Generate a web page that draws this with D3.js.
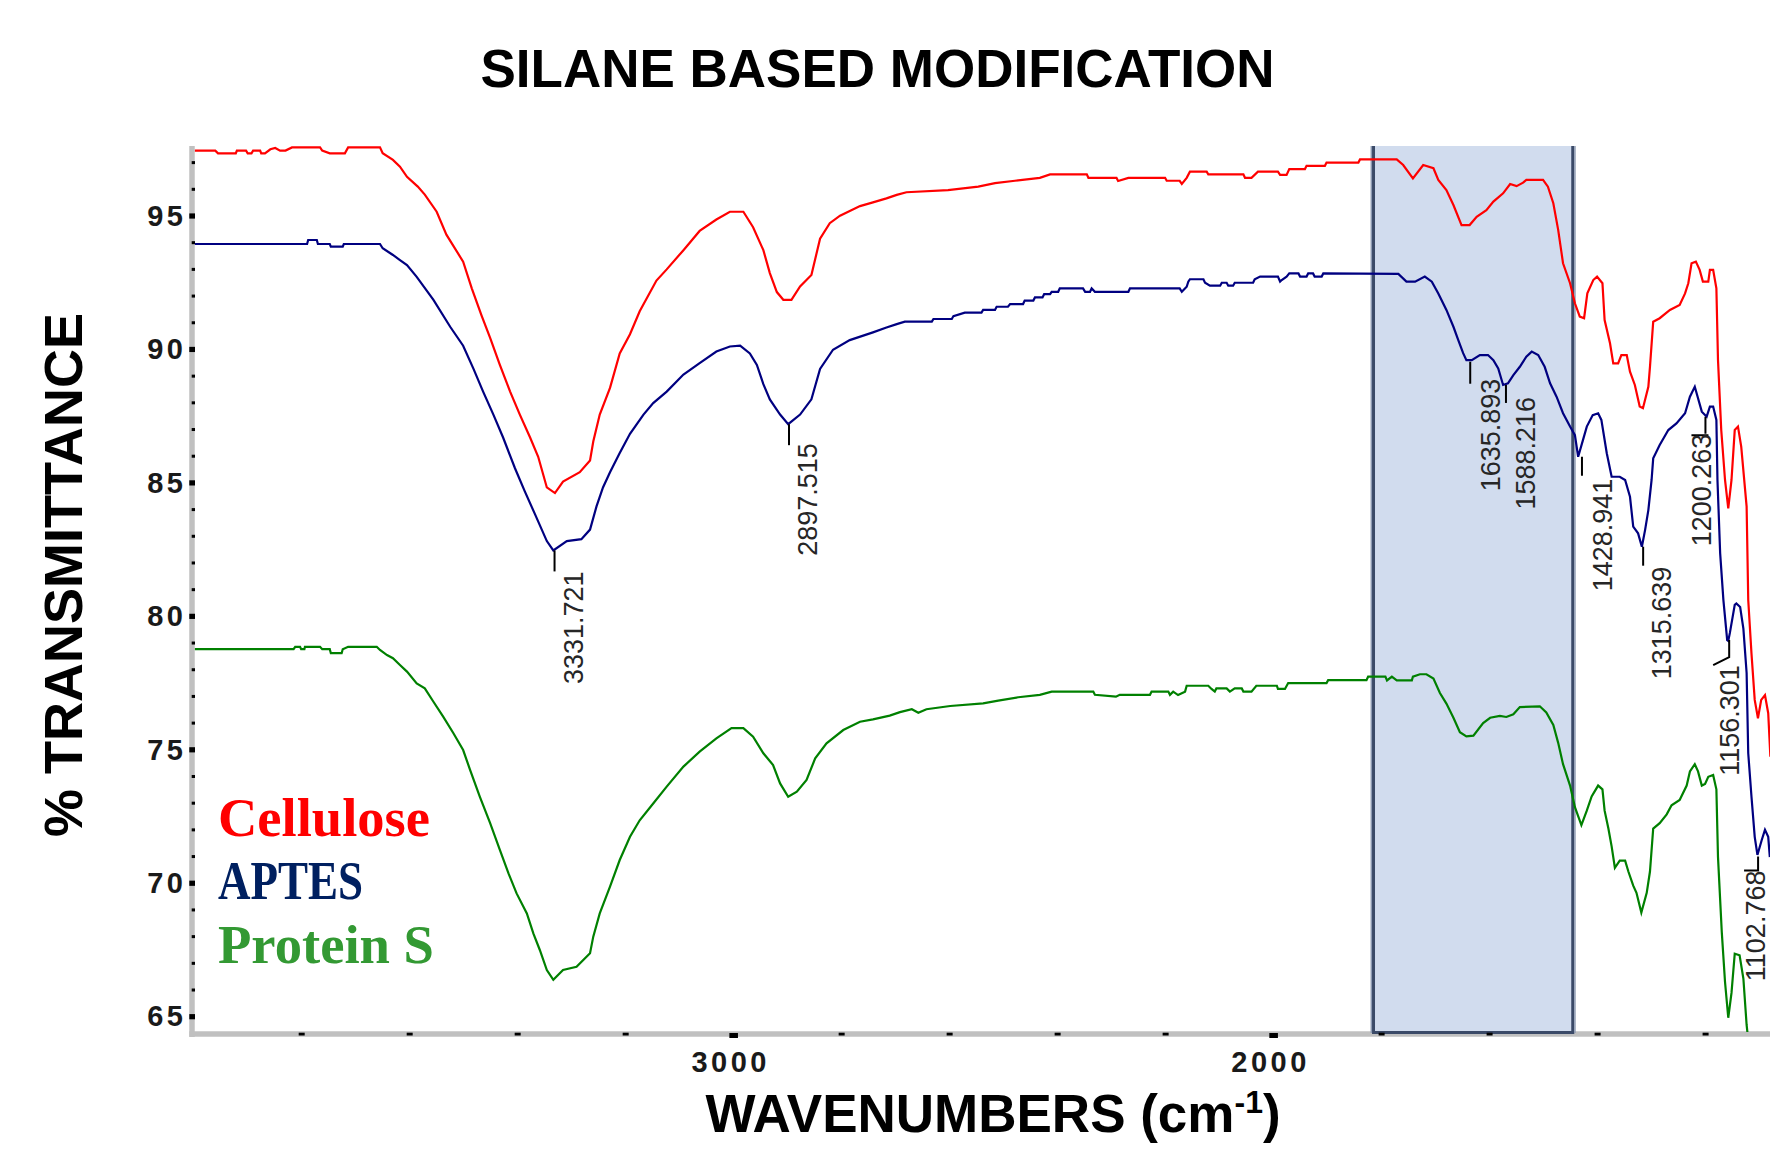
<!DOCTYPE html>
<html><head><meta charset="utf-8">
<script src="https://cdn.jsdelivr.net/npm/d3@7"></script>
<style>
html,body{margin:0;padding:0;background:#fff}
svg{display:block}
</style>
</head><body>
<svg id="chart" width="1770" height="1149"></svg>
<script>
// ---------------- DATA ----------------
const chartTitle = "SILANE BASED MODIFICATION";
const yTitle = "% TRANSMITTANCE";
const seriesNames = ["Cellulose", "APTES", "Protein S"];
const yTickValues = [65, 70, 75, 80, 85, 90, 95];
const xTickValues = [3000, 2000];
const highlightBand = [1815, 1446];

// [wavenumber cm-1, %T]
const cellulose = [[3998,97.45],[3960,97.45],[3955,97.35],[3922,97.35],[3920,97.45],[3903,97.45],[3900,97.35],[3893,97.35],[3890,97.45],[3877,97.45],[3875,97.35],[3868,97.35],[3858,97.5],[3849,97.55],[3840,97.45],[3830,97.45],[3818,97.57],[3766,97.57],[3762,97.45],[3748,97.35],[3720,97.35],[3714,97.57],[3655,97.57],[3650,97.35],[3631,97.1],[3618,96.85],[3605,96.47],[3585,96.1],[3572,95.8],[3550,95.16],[3532,94.3],[3501,93.29],[3485,92.29],[3467,91.28],[3451,90.43],[3433,89.42],[3414,88.42],[3396,87.56],[3377,86.7],[3362,85.98],[3346,84.83],[3331,84.62],[3316,85.05],[3285,85.4],[3266,85.84],[3260,86.55],[3248,87.56],[3229,88.56],[3211,89.85],[3192,90.57],[3174,91.43],[3143,92.58],[3124,93.0],[3093,93.72],[3063,94.44],[3032,94.87],[3007,95.16],[2982,95.16],[2964,94.58],[2945,93.72],[2933,92.86],[2920,92.15],[2908,91.86],[2893,91.86],[2877,92.36],[2856,92.79],[2840,94.15],[2822,94.73],[2803,95.01],[2766,95.37],[2742,95.51],[2717,95.66],[2698,95.79],[2680,95.89],[2603,95.97],[2547,96.1],[2516,96.23],[2479,96.32],[2433,96.43],[2414,96.56],[2346,96.56],[2343,96.43],[2291,96.43],[2288,96.31],[2269,96.43],[2201,96.43],[2198,96.32],[2174,96.32],[2170,96.2],[2161,96.43],[2155,96.66],[2124,96.66],[2121,96.56],[2056,96.56],[2053,96.43],[2041,96.43],[2029,96.66],[1992,96.66],[1988,96.54],[1976,96.54],[1971,96.76],[1942,96.76],[1939,96.88],[1905,96.88],[1902,97.0],[1843,97.0],[1840,97.12],[1772,97.12],[1760,96.91],[1742,96.41],[1723,96.91],[1704,96.79],[1695,96.35],[1680,95.97],[1667,95.41],[1652,94.66],[1637,94.66],[1624,94.97],[1606,95.22],[1593,95.54],[1575,95.85],[1562,96.2],[1550,96.12],[1538,96.25],[1532,96.35],[1501,96.35],[1492,96.1],[1482,95.48],[1473,94.48],[1464,93.23],[1451,92.48],[1442,91.73],[1433,91.23],[1425,91.17],[1419,92.1],[1408,92.6],[1401,92.73],[1391,92.48],[1387,91.1],[1377,90.23],[1371,89.48],[1362,89.48],[1356,89.79],[1346,89.79],[1340,89.17],[1331,88.67],[1322,87.86],[1316,87.8],[1306,88.6],[1303,89.35],[1297,91.04],[1285,91.17],[1266,91.48],[1248,91.67],[1238,92.1],[1232,92.48],[1226,93.23],[1218,93.29],[1211,92.98],[1205,92.54],[1195,92.54],[1192,92.98],[1186,92.98],[1180,92.29],[1177,89.6],[1171,86.98],[1164,85.11],[1158,84.05],[1152,85.11],[1146,86.98],[1140,87.11],[1134,86.36],[1124,84.11],[1121,80.61],[1115,78.61],[1109,76.87],[1103,76.18],[1097,76.87],[1090,77.05],[1084,76.37],[1080,74.74]];

const aptes = [[3998,93.95],[3790,93.95],[3788,94.1],[3772,94.1],[3770,93.95],[3748,93.95],[3746,93.85],[3724,93.85],[3722,93.95],[3655,93.95],[3650,93.79],[3631,93.54],[3618,93.35],[3605,93.16],[3587,92.72],[3556,91.86],[3525,90.85],[3501,90.14],[3482,89.28],[3464,88.42],[3445,87.56],[3427,86.7],[3405,85.55],[3387,84.69],[3368,83.83],[3346,82.82],[3334,82.47],[3309,82.82],[3282,82.89],[3266,83.25],[3254,84.12],[3242,84.83],[3229,85.4],[3211,86.12],[3192,86.84],[3167,87.56],[3149,87.99],[3124,88.42],[3093,89.06],[3063,89.49],[3032,89.92],[3007,90.11],[2988,90.14],[2970,89.85],[2957,89.42],[2945,88.7],[2933,88.13],[2914,87.56],[2899,87.2],[2877,87.56],[2856,88.13],[2840,89.27],[2816,89.99],[2785,90.35],[2742,90.64],[2717,90.82],[2698,90.95],[2683,91.04],[2633,91.04],[2630,91.14],[2596,91.14],[2593,91.25],[2572,91.38],[2541,91.38],[2538,91.48],[2516,91.48],[2513,91.6],[2492,91.6],[2488,91.7],[2464,91.7],[2461,91.83],[2445,91.83],[2442,91.95],[2428,91.95],[2425,92.07],[2414,92.07],[2411,92.16],[2399,92.16],[2396,92.29],[2353,92.29],[2349,92.16],[2340,92.16],[2337,92.29],[2331,92.16],[2269,92.16],[2266,92.29],[2174,92.29],[2170,92.16],[2161,92.35],[2158,92.54],[2155,92.63],[2130,92.63],[2127,92.5],[2118,92.39],[2099,92.39],[2096,92.5],[2087,92.5],[2084,92.39],[2075,92.39],[2072,92.5],[2038,92.5],[2035,92.63],[2025,92.73],[1992,92.73],[1988,92.54],[1985,92.6],[1976,92.73],[1971,92.85],[1954,92.85],[1951,92.73],[1939,92.73],[1936,92.85],[1927,92.85],[1924,92.73],[1911,92.73],[1908,92.85],[1769,92.83],[1754,92.54],[1738,92.54],[1720,92.73],[1707,92.54],[1695,92.1],[1680,91.48],[1667,90.85],[1658,90.35],[1649,89.86],[1643,89.6],[1633,89.6],[1618,89.79],[1603,89.79],[1593,89.6],[1584,89.29],[1575,88.67],[1566,88.73],[1556,89.04],[1544,89.35],[1532,89.73],[1522,89.92],[1510,89.79],[1498,89.35],[1488,88.73],[1476,88.23],[1464,87.61],[1451,87.11],[1442,86.79],[1436,85.98],[1427,86.61],[1420,87.11],[1409,87.54],[1399,87.61],[1393,87.36],[1383,86.11],[1374,85.23],[1359,85.23],[1349,85.11],[1340,84.48],[1334,83.36],[1325,83.11],[1318,82.61],[1312,83.24],[1306,83.98],[1300,85.11],[1297,85.92],[1285,86.42],[1269,86.98],[1254,87.23],[1238,87.61],[1229,88.23],[1220,88.6],[1207,87.67],[1198,87.48],[1192,87.86],[1186,87.86],[1180,87.36],[1178,85.11],[1173,82.36],[1167,80.61],[1160,79.11],[1158,79.08],[1155,79.38],[1146,80.43],[1143,80.48],[1136,80.35],[1130,79.54],[1124,77.88],[1121,74.87],[1115,73.24],[1109,71.74],[1104,71.06],[1096,71.62],[1090,72.0],[1084,71.74],[1081,70.98]];

const proteinS = [[3998,78.77],[3815,78.77],[3812,78.86],[3803,78.86],[3801,78.77],[3795,78.77],[3794,78.86],[3766,78.86],[3762,78.77],[3748,78.77],[3746,78.62],[3726,78.62],[3724,78.77],[3714,78.86],[3661,78.86],[3655,78.74],[3642,78.55],[3631,78.43],[3618,78.18],[3605,77.93],[3587,77.49],[3572,77.3],[3556,76.8],[3538,76.24],[3519,75.62],[3501,74.99],[3488,74.24],[3470,73.24],[3451,72.25],[3433,71.25],[3417,70.37],[3402,69.62],[3383,68.87],[3371,68.12],[3359,67.5],[3346,66.75],[3334,66.38],[3316,66.75],[3291,66.87],[3266,67.38],[3260,68.0],[3248,68.87],[3229,69.87],[3211,70.87],[3192,71.74],[3174,72.36],[3149,72.99],[3124,73.62],[3093,74.37],[3063,74.93],[3032,75.43],[3004,75.81],[2982,75.81],[2964,75.49],[2945,74.87],[2927,74.43],[2914,73.74],[2899,73.24],[2883,73.43],[2865,73.87],[2849,74.68],[2828,75.24],[2797,75.74],[2766,76.05],[2742,76.14],[2711,76.28],[2692,76.41],[2670,76.52],[2658,76.39],[2643,76.52],[2599,76.64],[2538,76.74],[2510,76.84],[2473,76.97],[2433,77.06],[2411,77.18],[2334,77.18],[2331,77.06],[2292,76.99],[2285,77.06],[2229,77.06],[2226,77.18],[2195,77.18],[2192,77.06],[2186,77.18],[2177,77.05],[2164,77.18],[2161,77.4],[2121,77.4],[2115,77.28],[2109,77.18],[2106,77.3],[2087,77.3],[2081,77.18],[2072,77.3],[2059,77.3],[2056,77.18],[2041,77.18],[2032,77.4],[1994,77.4],[1992,77.28],[1979,77.28],[1973,77.5],[1902,77.5],[1899,77.61],[1828,77.61],[1825,77.74],[1793,77.74],[1790,77.6],[1781,77.74],[1772,77.6],[1744,77.6],[1742,77.74],[1729,77.83],[1717,77.83],[1704,77.67],[1692,77.13],[1680,76.73],[1667,76.2],[1655,75.66],[1643,75.5],[1630,75.53],[1612,76.0],[1599,76.2],[1581,76.27],[1569,76.23],[1556,76.33],[1544,76.6],[1507,76.63],[1495,76.4],[1482,75.93],[1473,75.26],[1464,74.46],[1451,73.66],[1442,72.85],[1430,72.18],[1420,72.72],[1411,73.25],[1399,73.66],[1391,73.52],[1387,72.72],[1380,72.05],[1374,71.38],[1368,70.58],[1359,70.85],[1349,70.85],[1343,70.44],[1334,69.91],[1328,69.64],[1319,68.9],[1309,69.64],[1303,70.44],[1297,72.05],[1285,72.25],[1272,72.58],[1263,72.92],[1248,73.12],[1235,73.66],[1229,74.19],[1220,74.46],[1214,74.19],[1207,73.66],[1201,73.72],[1195,73.99],[1186,74.06],[1180,73.52],[1177,70.98],[1170,68.17],[1164,66.3],[1158,64.96],[1152,65.89],[1146,67.36],[1137,67.3],[1130,66.43],[1124,64.69],[1121,64.13]];

// peak annotations on the APTES curve
const peakLabels = ["3331.721","2897.515","1635.893","1588.216","1428.941","1315.639","1200.263","1156.301","1102.768"];
const peakT = [82.47, 87.20, 89.54, 88.67, 85.98, 82.61, 87.48, 79.11, 71.0];

// ---------------- DRAWING ----------------
const svg = d3.select("#chart");
svg.append("rect").attr("width",1770).attr("height",1149).attr("fill","#fff");

const x = d3.scaleLinear().domain([4000, 1077]).range([193.7, 1772]);
const y = d3.scaleLinear().domain([65, 95]).range([1016.7, 216]);
const plotTop = 146, plotBottom = 1034, plotLeft = 192, plotRight = 1770;

// highlight band
const bx0 = x(highlightBand[0]), bx1 = x(highlightBand[1]);
svg.append("rect").attr("x",bx0).attr("y",plotTop).attr("width",bx1-bx0).attr("height",plotBottom-1-plotTop)
  .attr("fill","#d1dcee");

// axis lines (grey)
svg.append("line").attr("x1",plotLeft).attr("x2",plotLeft).attr("y1",plotTop).attr("y2",plotBottom+3)
  .attr("stroke","#c0c0c0").attr("stroke-width",5.5);
svg.append("line").attr("x1",plotLeft-2.7).attr("x2",plotRight).attr("y1",plotBottom).attr("y2",plotBottom)
  .attr("stroke","#c0c0c0").attr("stroke-width",5.5);

// band borders
const bandBorder = svg.append("g").attr("stroke","#3b4a68").attr("fill","none").attr("stroke-width",3);
bandBorder.append("path").attr("d",`M${bx0},${plotTop}V${plotBottom-1.5}H${bx1}V${plotTop}`);
const bandHalo = svg.append("g").attr("stroke","#8d9ab3").attr("fill","none").attr("stroke-width",1.5);
bandHalo.append("line").attr("x1",bx0-2.2).attr("x2",bx0-2.2).attr("y1",plotTop).attr("y2",plotBottom-1);
bandHalo.append("line").attr("x1",bx1+2.2).attr("x2",bx1+2.2).attr("y1",plotTop).attr("y2",plotBottom-1);

// y ticks (minor every 1, major every 5)
const yMinor = d3.range(65, 98).filter(v => v % 5 !== 0);
svg.append("g").selectAll("rect").data(yMinor).join("rect")
  .attr("x",plotLeft-0.3).attr("y",d=>y(d)-1.5).attr("width",3.3).attr("height",3).attr("fill","#000");
svg.append("g").selectAll("rect").data(yTickValues).join("rect")
  .attr("x",plotLeft-2.7).attr("y",d=>y(d)-2.6).attr("width",5.7).attr("height",5.2).attr("fill","#000");

// x ticks (minor every 200)
const xMinor = d3.range(3800, 1000, -200).filter(v => v % 1000 !== 0);
svg.append("g").selectAll("rect").data(xMinor).join("rect")
  .attr("x",d=>x(d)-3).attr("y",plotBottom-1.3).attr("width",6).attr("height",2.8).attr("fill","#000");
svg.append("g").selectAll("rect").data(xTickValues).join("rect")
  .attr("x",d=>x(d)-4.3).attr("y",plotBottom-1).attr("width",8.6).attr("height",5).attr("fill","#000");

// tick labels via d3 axes
const tickFont = "'Liberation Sans', Arial, sans-serif";
const yAxis = svg.append("g").attr("transform",`translate(${plotLeft},0)`)
  .call(d3.axisLeft(y).tickValues(yTickValues).tickSize(0).tickPadding(5.5).tickFormat(d3.format("d")));
yAxis.select(".domain").remove();
yAxis.selectAll("text").attr("font-family",tickFont).attr("font-size",29).attr("font-weight","bold")
  .attr("fill","#1a1a1a").style("letter-spacing","3.5px");

const xAxis = svg.append("g").attr("transform",`translate(0,${plotBottom})`)
  .call(d3.axisBottom(x).tickValues(xTickValues).tickSize(0).tickPadding(17).tickFormat(d3.format("d")));
xAxis.select(".domain").remove();
xAxis.selectAll("text").attr("font-family",tickFont).attr("font-size",29).attr("font-weight","bold")
  .attr("fill","#1a1a1a").attr("dx",-3.5).style("letter-spacing","3.5px");

// clip for spectra
svg.append("defs").append("clipPath").attr("id","plotClip")
  .append("rect").attr("x",plotLeft+2.5).attr("y",plotTop-6).attr("width",plotRight-plotLeft).attr("height",plotBottom-2-(plotTop-6));

const line = d3.line().x(d=>x(d[0])).y(d=>y(d[1])).curve(d3.curveLinear);
const lineColors = ["#ff0000","#000080","#008000"];
const seriesData = [cellulose, aptes, proteinS];
const gLines = svg.append("g").attr("clip-path","url(#plotClip)");
seriesData.forEach((s,i)=>{
  gLines.append("path").datum(s).attr("d",line).attr("fill","none")
    .attr("stroke",lineColors[i]).attr("stroke-width",2.2).attr("stroke-linejoin","miter");
});

// peak annotation layout: text offset from tick top, optional leaders
const labelLayout = [
  {dx:28, dy:21, len:21},
  {dx:28, dy:19, len:21},
  {dx:30, dy:17, len:22},
  {dx:29, dy:12, len:18, shift:10},
  {dx:30, dy:22, len:19},
  {dx:28, dy:20, len:19},
  {dx:6,  dy:17, len:17, lead:"h"},
  {dx:10, dy:25, len:17, lead:"d"},
  {dx:7,  dy:14, len:14, lead:"h2"}
];
const gLab = svg.append("g");
peakLabels.forEach((lab,i)=>{
  const L = labelLayout[i];
  const tx = x(+lab) + (L.shift||0);
  const ty = y(peakT[i]);
  let d = `M${tx},${ty}V${ty+L.len}`;
  if (L.lead==="h") d += `M${tx-14},${ty+L.len+1.5}H${tx+3}`;
  if (L.lead==="d") d += `L${tx-16},${ty+L.len+8}`;
  if (L.lead==="h2") d += `H${tx-14}`;
  gLab.append("path").attr("d",d).attr("stroke","#000").attr("stroke-width",2).attr("fill","none");
  gLab.append("text").attr("transform",`translate(${tx+L.dx},${ty+L.dy}) rotate(-90)`)
    .attr("text-anchor","end").attr("font-family",tickFont).attr("font-size",27)
    .attr("fill","#262626").text(lab);
});

// legend
const legendColors = ["#ff0000","#002060","#339933"];
const legendBaselines = [836, 899, 963];
const legendWidths = [212, 145, 216];
svg.append("g").selectAll("text").data(seriesNames).join("text")
  .attr("x",218).attr("y",(d,i)=>legendBaselines[i])
  .attr("font-family","'Liberation Serif','Times New Roman',serif").attr("font-weight","bold")
  .attr("font-size",54).attr("fill",(d,i)=>legendColors[i])
  .attr("textLength",(d,i)=>legendWidths[i]).attr("lengthAdjust","spacingAndGlyphs")
  .text(d=>d);

// titles
const titleFont = "'Liberation Sans', Arial, Helvetica, sans-serif";
svg.append("text").attr("x",877.5).attr("y",87.3).attr("text-anchor","middle")
  .attr("font-family",titleFont).attr("font-weight","bold").attr("font-size",53).attr("fill","#000")
  .text(chartTitle);

svg.append("text").attr("transform","translate(82,575) rotate(-90)").attr("text-anchor","middle")
  .attr("font-family",titleFont).attr("font-weight","bold").attr("font-size",54).attr("fill","#000")
  .text(yTitle);

const xt = svg.append("text").attr("x",993).attr("y",1131.7).attr("text-anchor","middle")
  .attr("font-family",titleFont).attr("font-weight","bold").attr("font-size",53).attr("fill","#000");
xt.append("tspan").text("WAVENUMBERS (cm");
xt.append("tspan").attr("font-size",32).attr("dy",-19).text("-1");
xt.append("tspan").attr("dy",19).text(")");
</script>
</body></html>
